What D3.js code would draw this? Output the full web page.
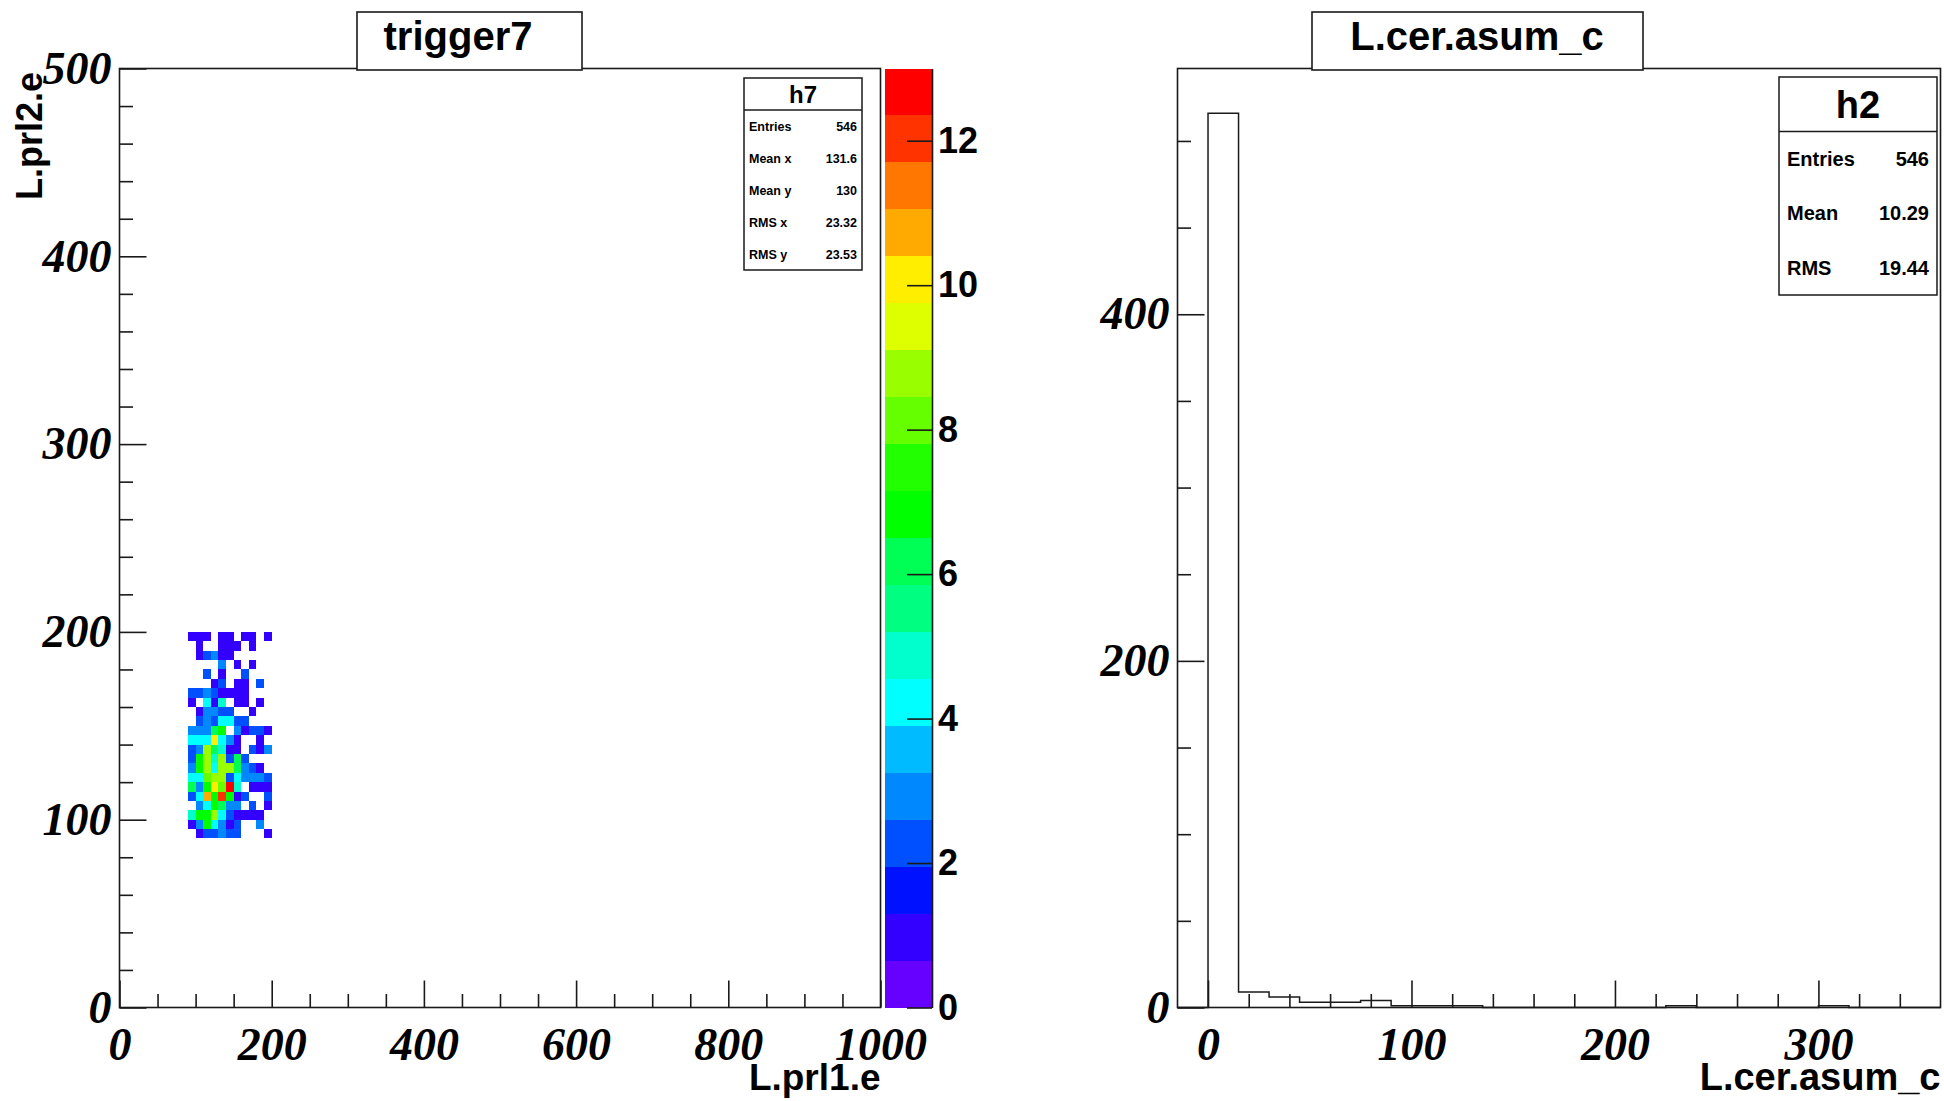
<!DOCTYPE html>
<html><head><meta charset="utf-8">
<script src="https://cdn.jsdelivr.net/npm/d3@7"></script>
<style>
html,body{margin:0;padding:0;background:#fff;}
svg{display:block;}
</style></head><body>
<svg id="c" width="1944" height="1101"></svg>
<script>
// ---------- Left pad: 2D histogram h7 ----------
const h7Title = "trigger7";
const h7XLabel = "L.prl1.e";
const h7YLabel = "L.prl2.e";
const h7XBinWidth = 10;
const h7YBinWidth = 5;
const h7XBinLow = [90,100,110,120,130,140,150,160,170,180,190];
const h7YBinLow = [195,190,185,180,175,170,165,160,155,150,145,140,135,130,125,120,115,110,105,100,95,90];
const h7Counts = [
  [1,1,1,0,1,1,0,1,1,0,1],
  [0,1,0,0,1,1,1,0,1,0,0],
  [0,1,2,3,1,1,0,0,0,0,0],
  [0,0,0,0,3,0,1,0,1,0,0],
  [0,0,2,0,1,0,0,2,0,0,0],
  [0,0,0,1,2,0,1,1,0,2,0],
  [2,2,3,2,1,1,1,1,0,0,0],
  [1,0,4,1,5,0,1,1,0,1,0],
  [0,1,3,3,2,2,0,0,1,0,0],
  [0,2,3,2,4,4,2,2,0,0,0],
  [3,3,3,6,7,0,3,1,2,2,1],
  [4,4,4,10,4,3,1,0,0,1,0],
  [2,3,9,6,5,1,1,0,2,1,3],
  [2,7,9,5,9,2,6,2,0,0,0],
  [3,7,9,4,9,9,6,3,2,1,0],
  [4,4,8,9,9,2,4,3,3,3,2],
  [6,3,7,10,8,13,5,0,1,1,1],
  [2,4,11,7,12,7,1,2,0,0,2],
  [0,3,4,7,6,3,3,0,2,0,1],
  [5,7,7,9,4,2,1,1,1,1,0],
  [1,3,7,4,3,1,2,0,0,3,0],
  [0,1,2,2,3,2,2,0,0,0,1]
];
const h7XDomain = [0,1000];
const h7YDomain = [0,500];
const h7XTicks = [0,200,400,600,800,1000];
const h7XMinorStep = 50;
const h7YTicks = [0,100,200,300,400,500];
const h7YMinorStep = 20;
const zMax = 13;
const zTicks = [0,2,4,6,8,10,12];
const palette = ["#6600ff","#3300ff","#0011ff","#0050ff","#0088ff","#00bbff","#00ffff","#00ffcc","#00ff80","#00ff55",
                 "#00ff00","#22ff00","#66ff00","#99ff00","#ddff00","#ffee00","#ffaa00","#ff7700","#ff3300","#ff0000"];
const h7StatsName = "h7";
const h7StatLabels = ["Entries","Mean x","Mean y","RMS x","RMS y"];
const h7StatValues = ["546","131.6","130","23.32","23.53"];

// ---------- Right pad: 1D histogram h2 ----------
const h2Title = "L.cer.asum_c";
const h2XLabel = "L.cer.asum_c";
const h2BinWidth = 15;
const h2BinLow = [-15,0,15,30,45,60,75,90,105,120,135,150,165,180,195,210,225,240,255,270,285,300,315,330,345];
const h2Counts = [0,516,9,6,3,3,4,1,1,1,0,0,0,0,0,0,1,0,0,0,0,1,0,0,0];
const h2XDomain = [-15,360];
const h2XTicks = [0,100,200,300];
const h2XMinorStep = 20;
const h2YTicks = [0,200,400];
const h2YMinorStep = 50;
const h2StatsName = "h2";
const h2StatLabels = ["Entries","Mean","RMS"];
const h2StatValues = ["546","10.29","19.44"];

// ---------- drawing ----------
const svg = d3.select("#c");
const SANS = "'Liberation Sans', Arial, Helvetica, sans-serif";
const SERIF = "'Liberation Serif', 'Times New Roman', serif";
const INK = "#1a1a1a";
const MAJ = 27, MIN = 13.5;

function styleAxis(g, size, family, italic) {
  g.attr("font-size", null).attr("font-family", null);
  g.selectAll(".tick line").attr("stroke", INK).attr("stroke-width", 1.6);
  g.selectAll(".tick text").attr("fill", "#000")
    .style("font-family", family).style("font-size", size + "px")
    .style("font-weight", "bold").style("font-style", italic ? "italic" : "normal");
  return g;
}
function minorVals(dom, step, majors) {
  return d3.range(Math.ceil(dom[0]/step)*step, dom[1] + 1e-9, step).filter(v => !majors.includes(v));
}

// ===== Left pad =====
const xL = d3.scaleLinear().domain(h7XDomain).range([119.5, 880.5]);
const yL = d3.scaleLinear().domain(h7YDomain).range([1007.5, 68.5]);
const zS = d3.scaleLinear().domain([0, zMax]).range([1007.5, 68.5]);
const colorOf = n => palette[Math.min(palette.length - 1, Math.floor(n / zMax * palette.length))];

const cells = [];
h7YBinLow.forEach((yv, r) => h7XBinLow.forEach((xv, c) => {
  const n = h7Counts[r][c];
  if (n > 0) cells.push({x: xv, y: yv, n});
}));
svg.append("g").selectAll("rect").data(cells).join("rect")
  .attr("x", d => xL(d.x)).attr("y", d => yL(d.y + h7YBinWidth))
  .attr("width", d => xL(d.x + h7XBinWidth) - xL(d.x))
  .attr("height", d => yL(d.y) - yL(d.y + h7YBinWidth))
  .attr("fill", d => colorOf(d.n)).attr("shape-rendering", "crispEdges");

// frame
svg.append("rect").attr("x", xL(h7XDomain[0])).attr("y", yL(h7YDomain[1]))
  .attr("width", xL(h7XDomain[1]) - xL(h7XDomain[0])).attr("height", yL(h7YDomain[0]) - yL(h7YDomain[1]))
  .attr("fill", "none").attr("stroke", INK).attr("stroke-width", 1.6);

// axes
styleAxis(svg.append("g").attr("transform", `translate(0,${yL(0)})`)
  .call(d3.axisBottom(xL).tickValues(h7XTicks).tickSize(-MAJ).tickSizeOuter(0).tickPadding(20).tickFormat(d3.format("d")))
  .call(g => g.select(".domain").remove()), 46, SERIF, true);
styleAxis(svg.append("g").attr("transform", `translate(0,${yL(0)})`)
  .call(d3.axisBottom(xL).tickValues(minorVals(h7XDomain, h7XMinorStep, h7XTicks)).tickSize(-MIN).tickFormat(""))
  .call(g => g.select(".domain").remove()), 10, SANS, false);
styleAxis(svg.append("g").attr("transform", `translate(${xL(0)},0)`)
  .call(d3.axisLeft(yL).tickValues(h7YTicks).tickSize(-MAJ).tickSizeOuter(0).tickPadding(8).tickFormat(d3.format("d")))
  .call(g => g.select(".domain").remove()), 46, SERIF, true);
styleAxis(svg.append("g").attr("transform", `translate(${xL(0)},0)`)
  .call(d3.axisLeft(yL).tickValues(minorVals(h7YDomain, h7YMinorStep, h7YTicks)).tickSize(-MIN).tickFormat(""))
  .call(g => g.select(".domain").remove()), 10, SANS, false);

// palette
const palX0 = 885, palX1 = 932;
svg.append("g").selectAll("rect").data(palette).join("rect")
  .attr("x", palX0).attr("width", palX1 - palX0)
  .attr("y", (d, i) => zS((i + 1) * zMax / palette.length))
  .attr("height", (d, i) => zS(i * zMax / palette.length) - zS((i + 1) * zMax / palette.length))
  .attr("fill", d => d).attr("shape-rendering", "crispEdges");
styleAxis(svg.append("g").attr("transform", `translate(${palX1},0)`)
  .call(d3.axisRight(zS).tickValues(zTicks).tickSize(-25).tickSizeOuter(0).tickPadding(6).tickFormat(d3.format("d")))
  .call(g => g.select(".domain").attr("stroke", INK).attr("stroke-width", 1.6)), 36, SANS, false);

// axis titles
svg.append("text").attr("x", xL(h7XDomain[1])).attr("y", 1090).attr("text-anchor", "end")
  .style("font-family", SANS).style("font-weight", "bold").style("font-size", "37px").text(h7XLabel);
svg.append("text").attr("transform", `translate(42,72) rotate(-90)`).attr("text-anchor", "end")
  .style("font-family", SANS).style("font-weight", "bold").style("font-size", "36px").text(h7YLabel);

// ===== Right pad =====
const xR = d3.scaleLinear().domain(h2XDomain).range([1177.5, 1940.5]);
const h2YMax = d3.max(h2Counts) * 1.05;
const yR = d3.scaleLinear().domain([0, h2YMax]).range([1007.5, 68.5]);

svg.append("rect").attr("x", xR(h2XDomain[0])).attr("y", yR(h2YMax))
  .attr("width", xR(h2XDomain[1]) - xR(h2XDomain[0])).attr("height", yR(0) - yR(h2YMax))
  .attr("fill", "none").attr("stroke", INK).attr("stroke-width", 1.6);

const pts = [[h2BinLow[0], 0]];
h2BinLow.forEach((lo, i) => { pts.push([lo, h2Counts[i]]); pts.push([lo + h2BinWidth, h2Counts[i]]); });
pts.push([h2BinLow[h2BinLow.length - 1] + h2BinWidth, 0]);
svg.append("path").attr("d", d3.line().x(d => xR(d[0])).y(d => yR(d[1]))(pts))
  .attr("fill", "none").attr("stroke", INK).attr("stroke-width", 1.5);

styleAxis(svg.append("g").attr("transform", `translate(0,${yR(0)})`)
  .call(d3.axisBottom(xR).tickValues(h2XTicks).tickSize(-MAJ).tickSizeOuter(0).tickPadding(20).tickFormat(d3.format("d")))
  .call(g => g.select(".domain").remove()), 46, SERIF, true);
styleAxis(svg.append("g").attr("transform", `translate(0,${yR(0)})`)
  .call(d3.axisBottom(xR).tickValues(minorVals([0, h2XDomain[1] - 1], h2XMinorStep, h2XTicks)).tickSize(-MIN).tickFormat(""))
  .call(g => g.select(".domain").remove()), 10, SANS, false);
styleAxis(svg.append("g").attr("transform", `translate(${xR(h2XDomain[0])},0)`)
  .call(d3.axisLeft(yR).tickValues(h2YTicks).tickSize(-MAJ).tickSizeOuter(0).tickPadding(8).tickFormat(d3.format("d")))
  .call(g => g.select(".domain").remove()), 46, SERIF, true);
styleAxis(svg.append("g").attr("transform", `translate(${xR(h2XDomain[0])},0)`)
  .call(d3.axisLeft(yR).tickValues(minorVals([0, h2YMax], h2YMinorStep, h2YTicks)).tickSize(-MIN).tickFormat(""))
  .call(g => g.select(".domain").remove()), 10, SANS, false);

svg.append("text").attr("x", xR(h2XDomain[1])).attr("y", 1090).attr("text-anchor", "end")
  .style("font-family", SANS).style("font-weight", "bold").style("font-size", "38px").text(h2XLabel);

// ===== Title boxes =====
function titleBox(x0, x1, tx, label) {
  svg.append("rect").attr("x", x0).attr("y", 12).attr("width", x1 - x0).attr("height", 58)
    .attr("fill", "#fff").attr("stroke", INK).attr("stroke-width", 1.6);
  svg.append("text").attr("x", tx).attr("y", 50).attr("text-anchor", "middle")
    .style("font-family", SANS).style("font-weight", "bold").style("font-size", "40px").text(label);
}
titleBox(357, 582, 458, h7Title);
titleBox(1312, 1643, 1477, h2Title);

// ===== Stats boxes =====
function statsBox(x0, y0, w, h, name, labels, values, titleSize, rowSize, padL, padR) {
  const n = labels.length + 1;
  const rh = h / n;
  svg.append("rect").attr("x", x0).attr("y", y0).attr("width", w).attr("height", h)
    .attr("fill", "#fff").attr("stroke", INK).attr("stroke-width", 1.5);
  svg.append("line").attr("x1", x0).attr("x2", x0 + w).attr("y1", y0 + rh).attr("y2", y0 + rh)
    .attr("stroke", INK).attr("stroke-width", 1.3);
  svg.append("text").attr("x", x0 + w / 2).attr("y", y0 + rh / 2 + titleSize * 0.36).attr("text-anchor", "middle")
    .style("font-family", SANS).style("font-weight", "bold").style("font-size", titleSize + "px").text(name);
  labels.forEach((l, i) => {
    const cy = y0 + rh * (i + 1.5) + rowSize * 0.36;
    svg.append("text").attr("x", x0 + padL).attr("y", cy)
      .style("font-family", SANS).style("font-weight", "bold").style("font-size", rowSize + "px").text(l);
    svg.append("text").attr("x", x0 + w - padR).attr("y", cy).attr("text-anchor", "end")
      .style("font-family", SANS).style("font-weight", "bold").style("font-size", rowSize + "px").text(values[i]);
  });
}
statsBox(744, 78, 118, 192, h7StatsName, h7StatLabels, h7StatValues, 24, 12.5, 5, 5);
statsBox(1779, 77, 158, 218, h2StatsName, h2StatLabels, h2StatValues, 38, 20, 8, 8);
</script>
</body></html>
